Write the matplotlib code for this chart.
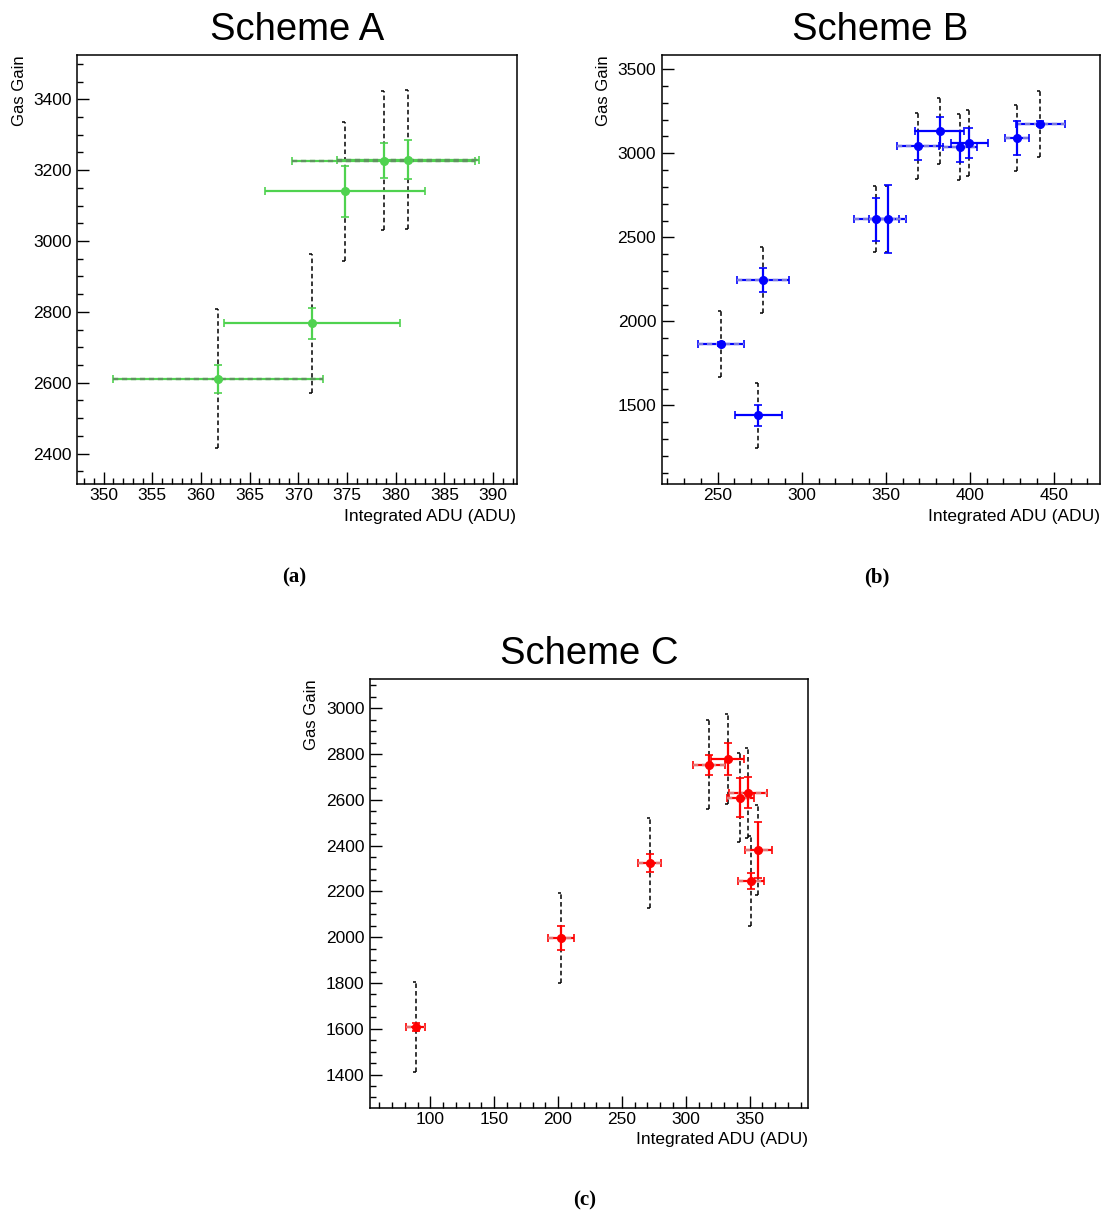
import matplotlib
matplotlib.use("Agg")
import matplotlib.pyplot as plt
import numpy as np
from matplotlib.path import Path
from matplotlib.ticker import MultipleLocator

plt.rcParams['font.family'] = ['Liberation Sans', 'DejaVu Sans']

# ---------------- data ----------------
# Scheme A
a_adu     = [361.75, 371.4, 374.8, 378.75, 381.3]
a_adu_err = [10.75, 9.05, 8.2, 9.4, 7.3]
a_gain    = [2611, 2768, 3140, 3227, 3229]
a_stat    = [39, 44, 72, 50, 55]
a_sys     = [196, 196, 196, 196, 196]
a_xdash   = [True, False, False, True, True]

# Scheme B
b_adu     = [252.0, 274.2, 277.0, 344.4, 351.2, 369.4, 382.1, 394.2, 399.8, 428.2, 441.9]
b_adu_err = [13.6, 13.8, 15.7, 13.4, 10.9, 12.4, 14.4, 10.1, 11.2, 7.0, 14.6]
b_gain    = [1863, 1440, 2246, 2607, 2607, 3046, 3131, 3040, 3060, 3093, 3175]
b_stat    = [12, 65, 72, 129, 202, 84, 85, 91, 88, 102, 15]
b_sys     = [196, 196, 196, 196, 196, 196, 196, 196, 196, 196, 196]
b_xdash   = [True, False, True, True, True, True, False, True, False, True, True]

# Scheme C
c_adu     = [88.5, 202.3, 271.7, 317.9, 333.0, 342.7, 348.5, 356.8, 351.3]
c_adu_err = [7.7, 9.8, 9.0, 12.4, 12.9, 10.8, 14.7, 10.8, 10.2]
c_gain    = [1608, 1997, 2325, 2754, 2779, 2610, 2631, 2381, 2245]
c_stat    = [17, 54, 39, 44, 71, 87, 67, 124, 34]
c_sys     = [196, 196, 196, 196, 196, 196, 196, 196, 196]
c_xdash   = [True, True, True, True, False, True, True, True, True]

titles = ["Scheme A", "Scheme B", "Scheme C"]
captions = ["(a)", "(b)", "(c)"]
x_label = "Integrated ADU (ADU)"
y_label = "Gas Gain"

# ---------------- figure ----------------
W, H = 1105, 1214
fig = plt.figure(figsize=(W / 100, H / 100), dpi=100)


def px_axes(left, right, top, bottom):
    return fig.add_axes([left / W, 1 - bottom / H, (right - left) / W, (bottom - top) / H])


# left-pointing bracket end for the systematic bars
bracket = Path([(-1.0, 0.0), (0.0, 0.0)], [Path.MOVETO, Path.LINETO])


def draw_scheme(ax, x, xerr, y, stat, sys, xdash, color, dash_color):
    x = np.asarray(x, float)
    y = np.asarray(y, float)
    xerr = np.asarray(xerr, float)
    stat = np.asarray(stat, float)
    sys = np.asarray(sys, float)
    xdash = np.asarray(xdash, bool)

    # systematic uncertainty: black dashed vertical bars with bracket ends
    eb = ax.errorbar(x, y, yerr=sys, fmt='none', ecolor='black',
                     elinewidth=1.1, capsize=0, zorder=2)
    for lc in eb[2]:
        lc.set_linestyle((0, (3, 2)))
    ax.plot(x, y + sys, ls='none', marker=bracket, ms=5, mew=1.1,
            color='black', zorder=2)
    ax.plot(x, y - sys, ls='none', marker=bracket, ms=5, mew=1.1,
            color='black', zorder=2)

    # horizontal error bars
    ax.errorbar(x, y, xerr=xerr, fmt='none', ecolor=color, elinewidth=1.6,
                capsize=3, capthick=1.2, zorder=3)
    if xdash.any():
        ebd = ax.errorbar(x[xdash], y[xdash], xerr=xerr[xdash], fmt='none',
                          ecolor=dash_color, elinewidth=1.7, capsize=0, zorder=3.5)
        for lc in ebd[2]:
            lc.set_linestyle((0, (2.2, 1.6)))

    # statistical uncertainty and the measured points
    ax.errorbar(x, y, yerr=stat, fmt='o', color=color, ms=5.5, mec=color,
                elinewidth=1.6, capsize=3, capthick=1.2, zorder=4)


def style_axes(ax, xlim, ylim, xmaj, xmin, ymaj, ymin, title, caption, cap_xy):
    ax.set_xlim(*xlim)
    ax.set_ylim(*ylim)
    ax.xaxis.set_major_locator(MultipleLocator(xmaj))
    ax.xaxis.set_minor_locator(MultipleLocator(xmin))
    ax.yaxis.set_major_locator(MultipleLocator(ymaj))
    ax.yaxis.set_minor_locator(MultipleLocator(ymin))
    ax.tick_params(which='both', direction='in', top=False, right=False,
                   labelsize=12.5, width=1.0, color='black')
    ax.tick_params(which='major', length=8.5)
    ax.tick_params(which='minor', length=4.3)
    ax.tick_params(axis='x', pad=3)
    ax.tick_params(axis='y', pad=4)
    for s in ax.spines.values():
        s.set_linewidth(1.1)
    h_px = ax.get_position().height * H
    ax.text(0.5, 1 + 25 / h_px, title, transform=ax.transAxes,
            ha='center', va='center', fontsize=27.5)
    ax.text(1.0, -32 / h_px, x_label, transform=ax.transAxes,
            ha='right', va='center', fontsize=12.5)
    w_px = ax.get_position().width * W
    ax.text(-58 / w_px, 1.0, y_label, transform=ax.transAxes, rotation=90,
            ha='center', va='top', fontsize=12)
    fig.text(cap_xy[0] / W, 1 - cap_xy[1] / H, caption, ha='center', va='center',
             fontsize=15, fontweight='bold',
             family=['Liberation Serif', 'DejaVu Serif'])


axA = px_axes(77.3, 516.5, 55, 484)
draw_scheme(axA, a_adu, a_adu_err, a_gain, a_stat, a_sys, a_xdash,
            '#4fd24f', '#5f945f')
style_axes(axA, (347.3, 392.4), (2314, 3525), 5, 1, 200, 50,
           titles[0], captions[0], (294, 577))

axB = px_axes(661.7, 1099.5, 55, 484)
draw_scheme(axB, b_adu, b_adu_err, b_gain, b_stat, b_sys, b_xdash,
            '#0000ff', '#7a7ade')
style_axes(axB, (216.7, 477.2), (1032, 3585), 50, 10, 500, 100,
           titles[1], captions[1], (877, 577))

axC = px_axes(370, 807.7, 679, 1107.5)
draw_scheme(axC, c_adu, c_adu_err, c_gain, c_stat, c_sys, c_xdash,
            '#ff0000', '#e07878')
style_axes(axC, (52.8, 395.4), (1256, 3128), 50, 10, 200, 50,
           titles[2], captions[2], (585, 1200))

fig.savefig("out.png", dpi=100)
